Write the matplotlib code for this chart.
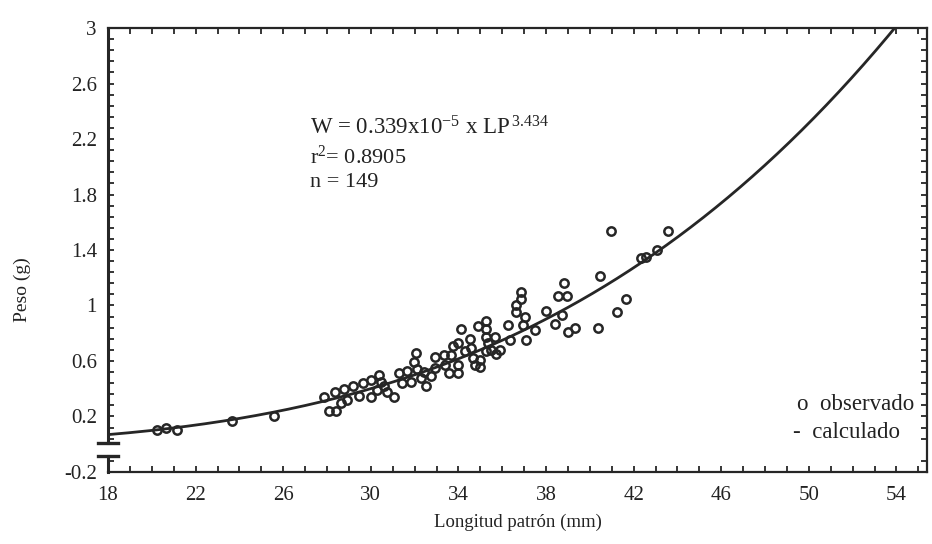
import numpy as np
import matplotlib
matplotlib.use("Agg")
import matplotlib.pyplot as plt
from matplotlib.ticker import FixedLocator, MultipleLocator, FuncFormatter

plt.rcParams['font.family'] = ['Liberation Serif', 'DejaVu Serif']
plt.rcParams['mathtext.fontset'] = 'custom'
plt.rcParams['mathtext.rm'] = 'Liberation Serif'
plt.rcParams['mathtext.it'] = 'Liberation Serif:italic'

# Observed data: standard length (mm) and weight (g)
longitud = [20.23, 21.14, 20.64, 23.64, 25.59, 28.09, 28.41, 27.86, 28.36, 28.77,
            29.18, 29.64, 30.00, 30.36, 30.45, 28.64, 28.91, 29.45, 30.00, 30.27,
            30.59, 30.73, 31.05, 31.27, 31.41, 31.64, 31.82, 31.95, 32.09, 32.05,
            32.27, 32.41, 32.50, 32.77, 32.95, 32.95, 33.32, 33.41, 33.55, 33.77,
            33.68, 34.00, 34.00, 34.00, 34.14, 34.32, 34.55, 34.68, 34.77, 34.59,
            34.91, 35.27, 35.27, 35.27, 35.36, 35.50, 35.68, 35.73, 35.91, 35.27,
            35.00, 35.00, 36.27, 36.36, 36.64, 36.64, 37.05, 36.95, 37.09, 37.50,
            38.00, 38.41, 36.86, 36.86, 38.55, 38.82, 38.95, 38.73, 39.00, 39.32,
            40.45, 40.36, 41.23, 41.64, 42.32, 42.55, 43.09, 43.55, 40.95]
peso = [0.10, 0.10, 0.12, 0.17, 0.20, 0.24, 0.24, 0.34, 0.38, 0.40,
        0.42, 0.44, 0.46, 0.50, 0.45, 0.30, 0.32, 0.35, 0.34, 0.39,
        0.42, 0.38, 0.34, 0.51, 0.44, 0.53, 0.45, 0.59, 0.54, 0.66,
        0.48, 0.52, 0.42, 0.49, 0.63, 0.55, 0.64, 0.57, 0.51, 0.71,
        0.64, 0.73, 0.57, 0.51, 0.83, 0.67, 0.76, 0.62, 0.57, 0.69,
        0.85, 0.89, 0.83, 0.77, 0.73, 0.68, 0.77, 0.65, 0.68, 0.67,
        0.61, 0.56, 0.86, 0.75, 1.00, 0.95, 0.92, 0.86, 0.75, 0.82,
        0.96, 0.87, 1.10, 1.05, 1.07, 1.16, 1.07, 0.93, 0.81, 0.84,
        1.21, 0.84, 0.95, 1.05, 1.34, 1.35, 1.40, 1.54, 1.54]

coef_a = 0.339e-5
coef_b = 3.434
x_ticks = [18, 22, 26, 30, 34, 38, 42, 46, 50, 54]
y_ticks = [-0.2, 0.2, 0.6, 1.0, 1.4, 1.8, 2.2, 2.6, 3.0]

ink = '#262626'
txt = '#222222'

fig = plt.figure(figsize=(9.32, 5.44), dpi=100)
ax = fig.add_axes([0.1159, 0.1324, 0.8788, 0.8161])
ax.set_xlim(18, 55.4)
ax.set_ylim(-0.2, 3.0)

# fitted curve
xc = np.linspace(18, 55.4, 400)
yc = coef_a * xc ** coef_b
ax.plot(xc, yc, color=ink, lw=2.0, zorder=3)

# observed points
ax.plot(longitud, peso, linestyle='none', marker='o', markersize=6.0,
        markerfacecolor='none', markeredgecolor=ink, markeredgewidth=1.8, zorder=4)

# spines
for s in ['top', 'right', 'bottom']:
    ax.spines[s].set_linewidth(1.6)
    ax.spines[s].set_color(ink)
ax.spines['left'].set_visible(False)

# broken left axis
ytr = ax.get_yaxis_transform()
b_hi, b_lo = 0.01, -0.085
ax.plot([0, 0], [b_hi, 3.0], transform=ytr, color=ink, lw=2.2, clip_on=False, zorder=5)
ax.plot([0, 0], [-0.2, b_lo], transform=ytr, color=ink, lw=2.2, clip_on=False, zorder=5)
ax.plot([-0.012, 0.012], [b_hi, b_hi], transform=ytr, color=ink, lw=2.4, clip_on=False, zorder=5)
ax.plot([-0.012, 0.012], [b_lo, b_lo], transform=ytr, color=ink, lw=2.4, clip_on=False, zorder=5)

# ticks
ax.xaxis.set_major_locator(FixedLocator(x_ticks))
ax.xaxis.set_minor_locator(MultipleLocator(1))
ax.yaxis.set_major_locator(FixedLocator(y_ticks))
minor_y = [v for v in np.arange(-0.2, 3.01, 0.08) if not (b_lo < v < b_hi)]
ax.yaxis.set_minor_locator(FixedLocator(minor_y))
ax.yaxis.set_major_formatter(FuncFormatter(lambda v, p: ('%g' % round(v, 2))))
ax.tick_params(which='both', direction='in', top=True, right=True, colors=ink,
               labelcolor=txt, width=1.3)
ax.tick_params(which='major', length=4, labelsize=15, pad=8)
ax.tick_params(which='minor', length=4)
ax.tick_params(axis='x', which='major', pad=10)

ax.set_xlabel('Longitud patrón (mm)', fontsize=13.5, labelpad=6, color=txt)
ax.set_ylabel('Peso (g)', fontsize=14, color=txt)
ax.yaxis.set_label_coords(-0.094, 0.41)

# equation
eq_x = 0.247
ax.text(eq_x, 0.775, r'W = 0.339x10$^{-5}$ x LP$^{\,3.434}$', transform=ax.transAxes,
        fontsize=16.5, color=txt, va='center')
ax.text(eq_x, 0.71, r'r$^{2}$= 0.8905', transform=ax.transAxes,
        fontsize=16, color=txt, va='center')
ax.text(eq_x, 0.652, 'n = 149', transform=ax.transAxes,
        fontsize=16, color=txt, va='center')

# legend text
ax.text(0.841, 0.151, 'o  observado', transform=ax.transAxes, fontsize=16.5,
        color=txt, va='center')
ax.text(0.836, 0.088, '-  calculado', transform=ax.transAxes, fontsize=16.5,
        color=txt, va='center')

fig.savefig('out.png', dpi=100)
